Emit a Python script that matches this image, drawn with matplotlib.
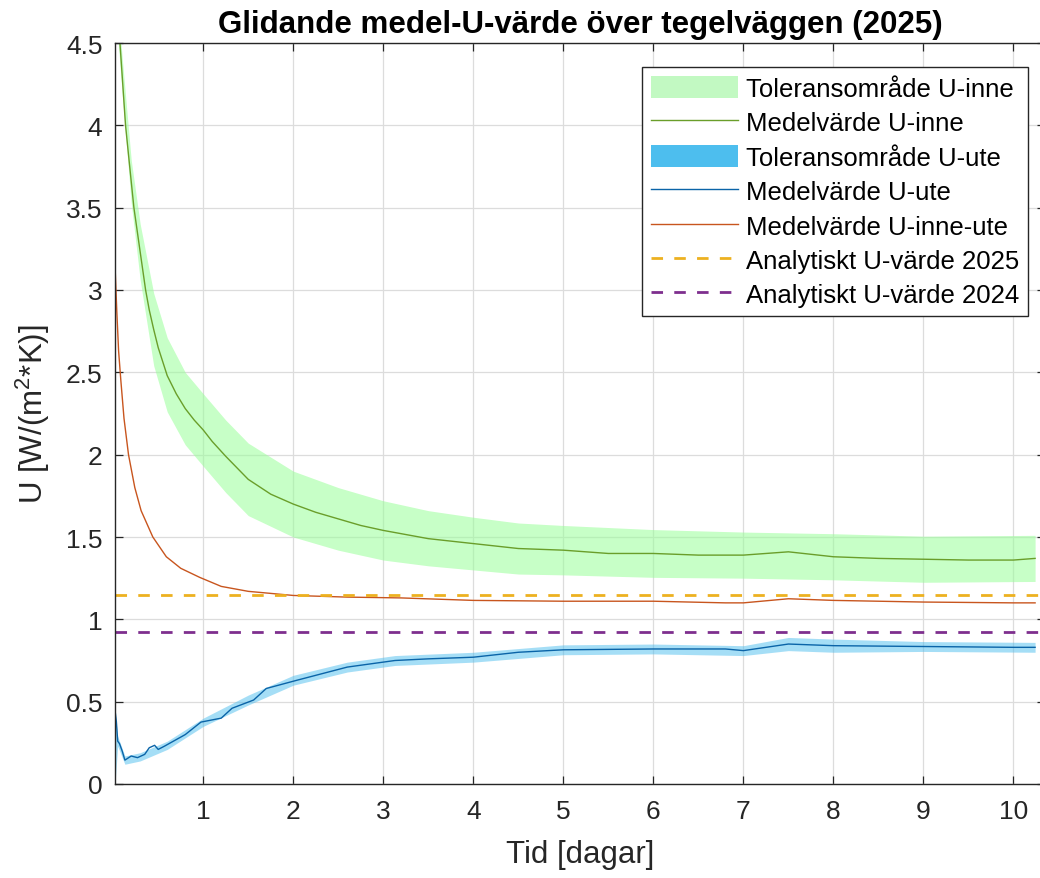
import matplotlib.pyplot as plt
from matplotlib.patches import Patch

plt.rcParams['font.family'] = ['Liberation Sans', 'DejaVu Sans']
plt.rcParams['mathtext.fontset'] = 'custom'
plt.rcParams['mathtext.rm'] = 'Liberation Sans'
plt.rcParams['mathtext.it'] = 'Liberation Sans:italic'
plt.rcParams['lines.scale_dashes'] = False

# Medelvärde U-inne (glidande medel)
t_inne = [0.05, 0.075, 0.10, 0.137, 0.20, 0.23, 0.30, 0.36, 0.40, 0.45, 0.50, 0.60,
          0.70, 0.80, 0.90, 1.00, 1.10, 1.25, 1.50, 1.75, 2.00, 2.25, 2.50, 2.75,
          3.00, 3.50, 4.00, 4.50, 5.00, 5.50, 6.00, 6.50, 7.00, 7.50, 8.00, 8.50,
          9.00, 9.50, 10.00, 10.24]
u_inne = [4.65, 4.50, 4.30, 4.00, 3.66, 3.50, 3.23, 3.00, 2.88, 2.76, 2.65, 2.48,
          2.37, 2.28, 2.21, 2.15, 2.08, 1.99, 1.85, 1.76, 1.70, 1.65, 1.61, 1.57,
          1.54, 1.49, 1.46, 1.43, 1.42, 1.40, 1.40, 1.39, 1.39, 1.41, 1.38, 1.37,
          1.365, 1.36, 1.36, 1.37]

# Toleransområde U-inne
t_inne_band = [0.05, 0.10, 0.20, 0.30, 0.45, 0.60, 0.80, 1.00, 1.25, 1.50, 2.00,
               2.50, 3.00, 3.50, 4.00, 4.50, 5.00, 6.00, 7.00, 8.00, 9.00, 10.24]
u_inne_lo = [4.55, 4.19, 3.53, 3.06, 2.54, 2.26, 2.06, 1.93, 1.77, 1.63, 1.50,
             1.42, 1.36, 1.325, 1.30, 1.275, 1.27, 1.255, 1.25, 1.24, 1.225, 1.23]
u_inne_hi = [4.75, 4.41, 3.79, 3.40, 2.98, 2.71, 2.50, 2.37, 2.21, 2.07, 1.90,
             1.80, 1.72, 1.66, 1.62, 1.585, 1.57, 1.545, 1.53, 1.52, 1.505, 1.51]

# Medelvärde U-ute
t_ute = [0.02, 0.022, 0.035, 0.05, 0.07, 0.10, 0.13, 0.20, 0.27, 0.35, 0.40,
         0.46, 0.50, 0.57, 0.80, 0.975, 1.20, 1.32, 1.56, 1.70, 2.04, 2.60, 3.13,
         3.50, 4.00, 4.50, 5.00, 6.00, 6.80, 7.00, 7.50, 8.00, 9.00, 10.00, 10.24]
u_ute = [0.00, 0.44, 0.38, 0.26, 0.245, 0.20, 0.145, 0.17, 0.16, 0.18, 0.22,
         0.235, 0.21, 0.23, 0.30, 0.376, 0.40, 0.46, 0.51, 0.58, 0.63, 0.71, 0.75,
         0.76, 0.77, 0.80, 0.815, 0.82, 0.82, 0.81, 0.85, 0.84, 0.835, 0.83, 0.83]

# Toleransområde U-ute
t_ute_band = [0.02, 0.05, 0.13, 0.30, 0.60, 1.00, 1.50, 2.00, 2.60, 3.13, 4.00,
              5.00, 6.00, 7.00, 7.50, 8.00, 9.00, 10.24]
u_ute_lo = [0.00, 0.23, 0.12, 0.14, 0.21, 0.35, 0.48, 0.60, 0.68, 0.72, 0.74,
            0.785, 0.79, 0.78, 0.81, 0.80, 0.805, 0.80]
u_ute_hi = [0.44, 0.29, 0.17, 0.19, 0.26, 0.40, 0.54, 0.66, 0.74, 0.78, 0.80,
            0.845, 0.85, 0.84, 0.89, 0.88, 0.865, 0.86]

# Medelvärde U-inne-ute
t_mix = [0.02, 0.04, 0.06, 0.085, 0.12, 0.17, 0.24, 0.31, 0.44, 0.59, 0.75, 0.96,
         1.20, 1.50, 2.00, 2.60, 3.20, 4.00, 5.00, 6.00, 6.80, 7.00, 7.50, 8.00,
         9.00, 10.00, 10.24]
u_mix = [3.15, 2.87, 2.63, 2.45, 2.22, 2.00, 1.80, 1.66, 1.50, 1.38, 1.31, 1.255,
         1.20, 1.17, 1.145, 1.135, 1.13, 1.115, 1.11, 1.11, 1.10, 1.10, 1.125, 1.115,
         1.105, 1.10, 1.10]

u_analytisk_2025 = 1.147
u_analytisk_2024 = 0.926

x_ticks = [1, 2, 3, 4, 5, 6, 7, 8, 9, 10]
y_ticks = [0, 0.5, 1, 1.5, 2, 2.5, 3, 3.5, 4, 4.5]
y_ticklabels = ['0', '0.5', '1', '1.5', '2', '2.5', '3', '3.5', '4', '4.5']

fig = plt.figure(figsize=(10.4, 8.79), dpi=100)
# axes run a little past the right edge of the figure
ax = fig.add_axes([115 / 1040, 94 / 879, 930 / 1040, 741 / 879])

ax.fill_between(t_inne_band, u_inne_lo, u_inne_hi, color='#99ff99', alpha=0.55, lw=0)
h2, = ax.plot(t_inne, u_inne, color='#6a9e2a', lw=1.0, label='Medelvärde U-inne')
ax.fill_between(t_ute_band, u_ute_lo, u_ute_hi, color='#4DBEEE', alpha=0.5, lw=0)
h4, = ax.plot(t_ute, u_ute, color='#0a64a8', lw=1.0, label='Medelvärde U-ute')
h5, = ax.plot(t_mix, u_mix, color='#c8551e', lw=1.0, label='Medelvärde U-inne-ute')
h6 = ax.axhline(u_analytisk_2025, color='#EDB120', lw=2, dashes=(8.3, 8.1),
                label='Analytiskt U-värde 2025')
h7 = ax.axhline(u_analytisk_2024, color='#7E2F8E', lw=2, dashes=(8.3, 8.1),
                label='Analytiskt U-värde 2024')

# legend patches for the tolerance bands
h1 = Patch(facecolor='#c2f9c2', edgecolor='none', label='Toleransområde U-inne')
h3 = Patch(facecolor='#4DBEEE', edgecolor='none', label='Toleransområde U-ute')

ax.set_xlim(0.02, 10.35)
ax.set_ylim(0, 4.5)
ax.set_xticks(x_ticks)
ax.set_yticks(y_ticks)
ax.set_yticklabels(y_ticklabels)
ax.grid(True, color='#dcdcdc', lw=0.9)
ax.set_axisbelow(True)
ax.tick_params(direction='in', length=6, width=0.9, top=True, right=True,
               colors='#262626', labelsize=19)
ax.tick_params(axis='x', pad=11)
ax.tick_params(axis='y', pad=9)
for s in ax.spines.values():
    s.set_color('#262626')
    s.set_linewidth(1.0)

ax.set_title('Glidande medel-U-värde över tegelväggen (2025)', fontsize=22.5,
             fontweight='bold', pad=8)
ax.set_xlabel('Tid [dagar]', fontsize=22.5, color='#262626', labelpad=11)
ax.set_ylabel('U [W/(m$^{2}$*K)]', fontsize=22.5, color='#262626', labelpad=10)

leg = ax.legend(handles=[h1, h2, h3, h4, h5, h6, h7], loc='upper right',
                bbox_to_anchor=(1028 / 1040, 1 - 68 / 879),
                bbox_transform=fig.transFigure, borderaxespad=0, fontsize=18.5,
                fancybox=False, framealpha=1, edgecolor='#262626',
                handlelength=3.4, handleheight=0.95, handletextpad=0.3,
                labelspacing=0.37, borderpad=0.35)
leg.get_frame().set_linewidth(1.0)

fig.savefig('out.png', dpi=100)
